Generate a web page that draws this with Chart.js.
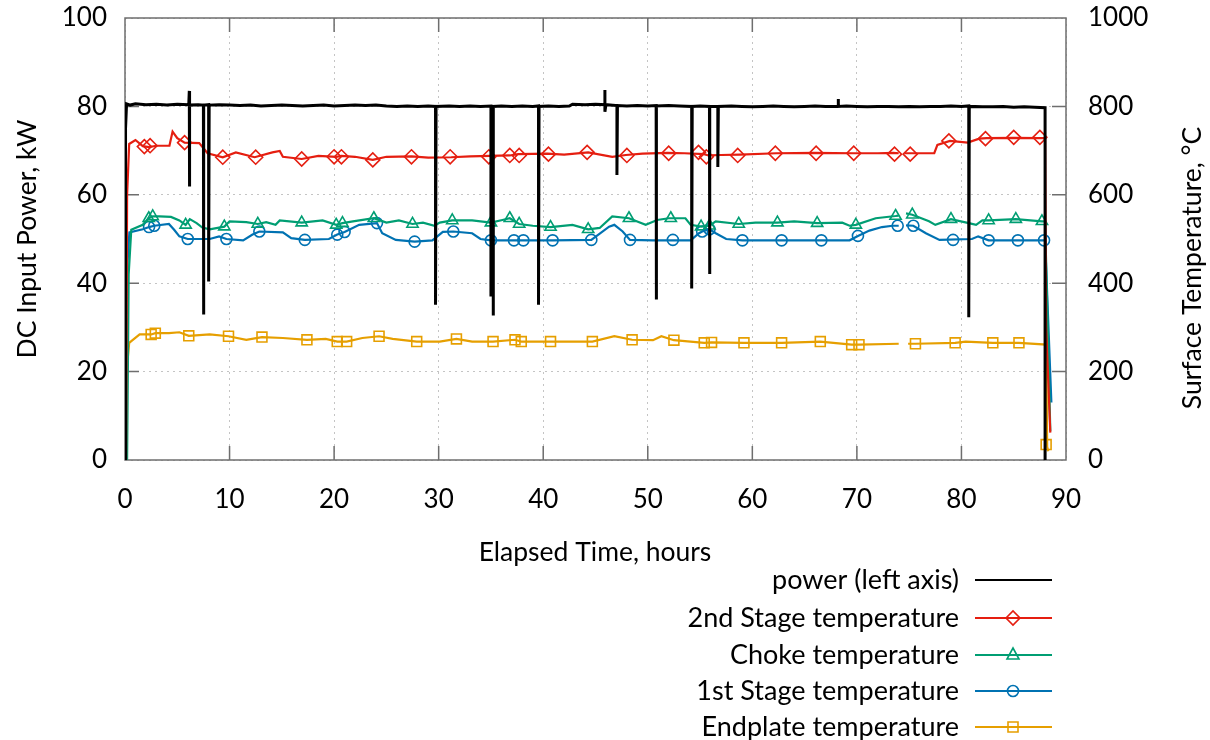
<!DOCTYPE html>
<html>
<head>
<meta charset="utf-8">
<script src="https://cdn.jsdelivr.net/npm/chart.js@4.4.0/dist/chart.umd.min.js"></script>
<style>
  html, body { margin: 0; padding: 0; background: #fff; }
</style>
</head>
<body>
<canvas id="chart" width="1210" height="740"></canvas>
<script>
// Power trace (left axis, kW) - includes the dropout spikes
const powerHours = [0, 0.05, 0.15, 0.5, 1, 2, 3, 4, 5, 6.1, 6.15, 6.15, 6.2, 7, 7.5, 7.5, 7.55, 8.0, 8.0, 8.05,
  9, 10, 11, 12, 13, 14, 15, 16, 17, 18, 19, 20, 21, 22, 23, 24, 25, 26, 27, 28, 29, 29.7, 29.7, 29.75,
  31, 32, 33, 34, 35.0, 35.0, 35.05, 35.2, 35.2, 35.25, 36, 37, 38, 39, 39.55, 39.55, 39.6,
  40.5, 41.5, 42.5, 42.8, 44, 45, 45.9, 45.9, 45.9, 46, 47.05, 47.05, 47.1, 48, 49, 50, 50.8, 50.8, 50.85,
  52, 53, 54.2, 54.2, 54.25, 55, 55.9, 55.9, 55.95, 56.7, 56.7, 56.75, 58, 59, 60, 61, 62, 63, 64, 65, 66, 67,
  68.2, 68.2, 68.25, 69, 70, 71, 72, 73, 74, 75, 76, 77, 78, 79, 80, 80.7, 80.7, 80.75,
  82, 83, 84, 85, 86, 87, 88.0, 88.0];
const powerKW = [0, 75, 80.6, 80.3, 80.6, 80.4, 80.5, 80.3, 80.5, 80.4, 83.5, 61.9, 80.3, 80.4, 80.3, 32.9, 80.3, 80.4, 40.4, 80.3,
  80.4, 80.3, 80.2, 80.3, 80.1, 80.2, 80.3, 80.2, 80.1, 80.2, 80.3, 80.1, 80.2, 80.3, 80.2, 80.3, 80.1, 80.0, 80.1, 80.0, 80.1, 80.0, 35.1, 80.0,
  80.1, 80.0, 80.1, 80.0, 80.1, 37.0, 80.0, 80.0, 32.7, 80.0, 80.1, 80.0, 80.1, 80.0, 80.1, 35.1, 80.0,
  80.1, 80.0, 80.1, 80.5, 80.4, 80.5, 80.4, 83.7, 78.8, 80.4, 80.2, 64.5, 80.2, 80.1, 80.2, 80.1, 80.2, 36.3, 80.1,
  80.2, 80.1, 80.0, 38.8, 80.0, 80.1, 80.0, 42.1, 80.0, 80.0, 66.3, 80.0, 80.1, 80.0, 79.9, 80.0, 80.1, 80.0, 79.9, 80.0, 80.1, 80.0,
  80.0, 81.7, 80.0, 80.1, 80.0, 79.9, 80.0, 80.0, 79.9, 80.0, 79.9, 80.0, 80.0, 80.1, 80.0, 80.1, 32.3, 80.0,
  79.9, 79.9, 80.0, 79.8, 79.9, 79.8, 79.7, 0];

// 2nd Stage temperature (right axis, deg C)
const stage2Hours = [0.1, 0.2, 0.4, 1, 1.7, 2.3, 3, 4.25, 4.55, 5.0, 5.7, 7.1, 7.9, 9.35, 10.6, 12.4, 14.1, 14.8, 15.1, 16.9,
  18.5, 20.2, 20.7, 22, 23.7, 25, 27.4, 29, 31.2, 33, 34.9, 36.8, 37.6, 40.4, 42, 44.3, 46.6, 47.9, 49.5, 51.9, 53.5,
  55.4, 55.8, 57, 58.8, 62.3, 65.9, 69.7, 72, 73.5, 74.0, 74.3, 74.6, 75.1, 77.4, 77.7, 78.9, 80.6, 81.7, 82.4, 85, 87.4, 88.0, 88.1, 88.5];
const stage2Temp = [0, 600, 715, 724, 710, 708, 711, 711, 743, 728, 718, 717, 694, 685, 696, 685, 696, 699, 686, 681,
  688, 686, 688, 686, 679, 686, 687, 684, 685, 687, 688, 689, 692, 693, 691, 696, 686, 690, 693, 695, 694,
  692, 689, 690, 691, 694, 695, 694, 694, 695, 694, null, 694, 694, 694, 713, 722, 718, 727, 728, 729, 728, 728, 300, 62];
const stage2MarkHours = [1.85, 2.4, 5.7, 9.35, 12.5, 16.9, 20.0, 20.7, 23.7, 27.4, 31.1, 34.8, 36.8, 37.7, 40.5, 44.2, 48.0,
  52.0, 54.85, 55.6, 58.6, 62.2, 66.1, 69.7, 73.6, 75.1, 78.8, 82.3, 85.0, 87.5];
const stage2MarkTemp = [709, 711, 718, 685, 685, 681, 686, 686, 679, 686, 686, 686, 689, 689, 692, 696, 689,
  694, 696, 686, 689, 694, 694, 694, 692, 692, 722, 727, 730, 730];

// Choke temperature
const chokeHours = [0.2, 0.35, 0.6, 1.7, 2.27, 2.65, 3.3, 4.4, 5.2, 5.8, 6.2, 6.85, 7.4, 8.1, 9.5, 10, 11.6, 12.7, 13.5, 14.4, 14.8,
  16.9, 18.9, 20.2, 20.8, 21.8, 23.8, 25, 26.2, 27.5, 28.5, 29.6, 30.1, 31.3, 33.2, 35.0, 36.1, 36.8, 37.7, 39, 40.7,
  42.8, 44.3, 45.4, 46.6, 48.2, 49.8, 50.9, 52, 53.6, 54.1, 55.1, 55.9, 56.5, 58.7, 60.3, 62.4, 64, 66.2, 68.6, 69.3, 69.9,
  71.8, 73.7, 74.0, 74.3, 74.7, 75.3, 76.9, 77.5, 79, 80.7, 81.4, 82, 82.6, 85.2, 87.7, 88.0, 88.5];
const chokeTemp = [0, 420, 521, 532, 547, 551, 551, 550, 542, 532, 545, 536, 526, 522, 528, 540, 538, 534, 538, 532, 542,
  537, 542, 532, 536, 540, 547, 537, 542, 534, 537, 530, 537, 542, 542, 537, 543, 547, 534, 530, 527,
  532, 522, 525, 551, 547, 532, 543, 547, 547, 532, 528, 530, 540, 534, 537, 537, 540, 536, 537, 530, 532,
  547, 552, 553, null, 558, 555, 540, 532, 545, 536, 532, 542, 542, 545, 540, 540, 65];
const chokeMarkHours = [2.27, 2.65, 5.8, 9.5, 12.7, 16.9, 20.2, 20.8, 23.8, 27.5, 31.3, 35.0, 36.8, 37.7, 40.7, 44.3, 48.2,
  52.2, 55.1, 55.9, 58.7, 62.4, 66.2, 69.9, 73.7, 75.3, 79, 82.6, 85.2, 87.7];
const chokeMarkTemp = [547, 551, 532, 528, 534, 537, 532, 536, 547, 534, 542, 537, 547, 534, 527, 522, 547,
  547, 528, 530, 534, 537, 536, 532, 552, 555, 545, 542, 545, 540];

// 1st Stage temperature
const stage1Hours = [0.12, 0.25, 0.42, 1.7, 2.3, 2.8, 4.2, 4.7, 5.2, 6.0, 8.1, 9.0, 9.7, 11.3, 12.2, 12.85, 15.1, 15.9, 17.2,
  19.5, 20.3, 21, 22.4, 24.1, 24.6, 25.9, 27.7, 29.4, 30.4, 31.4, 33.2, 34.0, 35.0, 40.9, 44.6, 46.3, 46.8, 47.6, 48.3,
  50.5, 54.1, 54.9, 55.2, 55.9, 56.5, 57.5, 59.05, 69.3, 70.1, 71.2, 72.4, 73.4, 74.0, 74.3, 74.7, 75.4, 76.6, 77.9,
  81, 81.6, 82.6, 87.9, 88.0, 88.6];
const stage1Temp = [0, 450, 515, 522, 527, 530, 534, 521, 506, 500, 500, 506, 500, 497, 510, 517, 515, 502, 498,
  500, 510, 516, 532, 536, 513, 498, 494, 497, 516, 517, 513, 500, 497, 497, 498, 528, 532, 517, 498,
  497, 497, 513, 517, 522, 513, 500, 497, 497, 507, 519, 527, 530, 530, null, 531, 530, 513, 498,
  500, 506, 497, 497, 497, 130];
const stage1MarkHours = [2.3, 2.8, 6.0, 9.7, 12.85, 17.2, 20.3, 21.0, 24.1, 27.7, 31.4, 35.0, 37.2, 38.1, 40.9, 44.6, 48.3,
  52.4, 55.2, 55.9, 59.05, 62.8, 66.6, 70.1, 73.9, 75.4, 79.2, 82.6, 85.4, 87.9];
const stage1MarkTemp = [527, 530, 500, 500, 517, 498, 510, 516, 536, 494, 517, 497, 497, 497, 497, 498, 498,
  498, 517, 522, 497, 497, 497, 507, 530, 530, 498, 497, 497, 497];

// Endplate temperature
const endplateHours = [0.05, 0.15, 0.4, 1.4, 2.5, 2.9, 4.2, 5.2, 6.1, 8.1, 9.9, 11.6, 13.1, 15.1, 17.4, 19.2, 20.3, 21.2,
  22.7, 24.3, 25.6, 27.9, 30.1, 31.7, 33.2, 35.2, 37.3, 37.9, 40.7, 44.7, 46.8, 48.5, 50.5, 51.3, 52.5, 55.4, 56.1,
  59.2, 62.8, 66.5, 69.5, 70.2, 74.0, 74.4, 74.9, 75.6, 79.4, 80.4, 83, 85.5, 88.1, 88.2, 88.3];
const endplateTemp = [0, 200, 265, 284, 284, 287, 287, 289, 281, 284, 280, 272, 278, 276, 272, 274, 268, 268,
  276, 280, 274, 268, 268, 274, 268, 268, 272, 268, 268, 268, 280, 272, 271, 280, 271, 265, 266,
  265, 265, 268, 261, 261, 263, null, 263, 263, 265, 268, 265, 265, 261, 30, 20];
const endplateMarkHours = [2.5, 2.9, 6.1, 9.9, 13.1, 17.4, 20.3, 21.2, 24.3, 27.9, 31.7, 35.2, 37.3, 37.9, 40.7, 44.7, 48.5,
  52.5, 55.4, 56.1, 59.2, 62.8, 66.5, 69.5, 70.2, 75.6, 79.4, 83, 85.5, 88.1];
const endplateMarkTemp = [284, 287, 281, 280, 278, 272, 268, 268, 280, 268, 274, 268, 272, 268, 268, 268, 272,
  271, 265, 266, 265, 265, 268, 261, 261, 263, 265, 265, 265, 35];

const seriesNames = ['power (left axis)', '2nd Stage temperature', 'Choke temperature', '1st Stage temperature', 'Endplate temperature'];
const seriesColors = ['#000000', '#e51e10', '#009e73', '#0072b2', '#e69f00'];
const seriesMarkers = [null, 'rectRot', 'triangle', 'circle', 'rect'];

const FONT = 'Lato, "Open Sans", sans-serif';

function toPoints(xs, ys) {
    return xs.map((x, i) => ({ x: x, y: ys[i] }));
}

function lineSet(label, xs, ys, color, axis, width, order) {
    return {
        label: label,
        data: toPoints(xs, ys),
        yAxisID: axis,
        borderColor: color,
        backgroundColor: color,
        borderWidth: width,
        pointRadius: 0,
        tension: 0,
        spanGaps: false,
        order: order
    };
}

function markerSet(label, xs, ys, color, style, radius) {
    return {
        label: label,
        data: toPoints(xs, ys),
        yAxisID: 'y2',
        showLine: false,
        pointStyle: style,
        pointRadius: radius,
        pointBorderColor: color,
        pointBackgroundColor: 'rgba(0,0,0,0)',
        pointBorderWidth: 1.6,
        order: 5
    };
}

const datasets = [
    lineSet(seriesNames[0], powerHours, powerKW, seriesColors[0], 'y', 3, 1),
    lineSet(seriesNames[1], stage2Hours, stage2Temp, seriesColors[1], 'y2', 2.2, 2),
    lineSet(seriesNames[2], chokeHours, chokeTemp, seriesColors[2], 'y2', 2.2, 3),
    lineSet(seriesNames[3], stage1Hours, stage1Temp, seriesColors[3], 'y2', 2.2, 4),
    lineSet(seriesNames[4], endplateHours, endplateTemp, seriesColors[4], 'y2', 2.2, 4),
    markerSet('m2', stage2MarkHours, stage2MarkTemp, seriesColors[1], 'rectRot', 7),
    markerSet('mc', chokeMarkHours, chokeMarkTemp, seriesColors[2], 'triangle', 6.5),
    markerSet('m1', stage1MarkHours, stage1MarkTemp, seriesColors[3], 'circle', 5.5),
    markerSet('me', endplateMarkHours, endplateMarkTemp, seriesColors[4], 'rect', 7)
];

// Border box, inward tick marks, axis titles and the key
const framePlugin = {
    id: 'frame',
    beforeDatasetsDraw(chart) {
        const ctx = chart.ctx;
        const a = chart.chartArea;
        const xs = chart.scales.x, ys = chart.scales.y;
        ctx.save();
        ctx.strokeStyle = '#6e6e6e';
        ctx.lineWidth = 1.5;
        ctx.strokeRect(a.left, a.top, a.right - a.left, a.bottom - a.top);
        ctx.beginPath();
        for (let v = 20; v < 100; v += 20) {
            const py = ys.getPixelForValue(v);
            ctx.moveTo(a.left, py); ctx.lineTo(a.left + 14, py);
            ctx.moveTo(a.right, py); ctx.lineTo(a.right - 14, py);
        }
        for (let h = 10; h < 90; h += 10) {
            const px = xs.getPixelForValue(h);
            ctx.moveTo(px, a.bottom); ctx.lineTo(px, a.bottom - 14);
            ctx.moveTo(px, a.top); ctx.lineTo(px, a.top + 14);
        }
        ctx.stroke();
        ctx.restore();
    },
    afterDraw(chart) {
        const ctx = chart.ctx;
        ctx.save();
        ctx.fillStyle = '#000';
        ctx.font = '26.5px ' + FONT;
        ctx.textAlign = 'center';
        ctx.textBaseline = 'middle';
        ctx.fillText('Elapsed Time, hours', 595, 552);

        ctx.save();
        ctx.translate(27, 239);
        ctx.rotate(-Math.PI / 2);
        ctx.fillText('DC Input Power, kW', 0, 0);
        ctx.restore();

        ctx.save();
        ctx.translate(1192, 268);
        ctx.rotate(-Math.PI / 2);
        ctx.fillText('Surface Temperature, \u00B0C', 0, 0);
        ctx.restore();

        // key, bottom right
        const rowY = [580, 618, 655, 691, 727];
        ctx.font = '27px ' + FONT;
        ctx.textAlign = 'right';
        seriesNames.forEach((name, i) => {
            const y = rowY[i];
            ctx.fillStyle = '#000';
            ctx.fillText(name, 959, y);
            ctx.strokeStyle = seriesColors[i];
            ctx.lineWidth = 2;
            ctx.beginPath();
            ctx.moveTo(975, y); ctx.lineTo(1052, y);
            ctx.stroke();
            const m = seriesMarkers[i];
            if (m) {
                ctx.lineWidth = 1.6;
                ctx.beginPath();
                const cx = 1013;
                if (m === 'rectRot') {
                    ctx.moveTo(cx - 7, y); ctx.lineTo(cx, y - 7); ctx.lineTo(cx + 7, y); ctx.lineTo(cx, y + 7); ctx.closePath();
                } else if (m === 'triangle') {
                    ctx.moveTo(cx, y - 7); ctx.lineTo(cx + 6, y + 4); ctx.lineTo(cx - 6, y + 4); ctx.closePath();
                } else if (m === 'circle') {
                    ctx.arc(cx, y, 5.5, 0, Math.PI * 2);
                } else {
                    ctx.rect(cx - 5, y - 5, 10, 10);
                }
                ctx.stroke();
            }
        });
        ctx.restore();
    }
};

const gridColor = '#c4c4c4';

new Chart(document.getElementById('chart'), {
    type: 'line',
    data: { datasets: datasets },
    options: {
        responsive: false,
        animation: false,
        layout: { autoPadding: false, padding: { top: 18, left: 0, right: 0, bottom: 0 } },
        plugins: { legend: { display: false }, tooltip: { enabled: false } },
        scales: {
            x: {
                type: 'linear',
                min: 0, max: 90,
                ticks: { stepSize: 10, color: '#000', font: { family: FONT, size: 26 }, padding: 24, maxRotation: 0 },
                grid: { color: gridColor, drawTicks: false, lineWidth: 1 },
                border: { display: false, dash: [2, 4] },
                afterFit(scale) { scale.height = 280; }
            },
            y: {
                position: 'left',
                min: 0, max: 100,
                ticks: { stepSize: 20, color: '#000', font: { family: FONT, size: 26 }, padding: 0 },
                grid: { color: gridColor, drawTicks: true, tickLength: 18, tickColor: 'rgba(0,0,0,0)', lineWidth: 1 },
                border: { display: false, dash: [2, 4] },
                afterFit(scale) { scale.width = 125; }
            },
            y2: {
                position: 'right',
                min: 0, max: 1000,
                ticks: { stepSize: 200, color: '#000', font: { family: FONT, size: 26 }, padding: 0,
                    callback: (v) => String(v) },
                grid: { drawOnChartArea: false, drawTicks: true, tickLength: 22, tickColor: 'rgba(0,0,0,0)' },
                border: { display: false },
                afterFit(scale) { scale.width = 144; }
            }
        }
    },
    plugins: [framePlugin]
});
</script>
</body>
</html>
